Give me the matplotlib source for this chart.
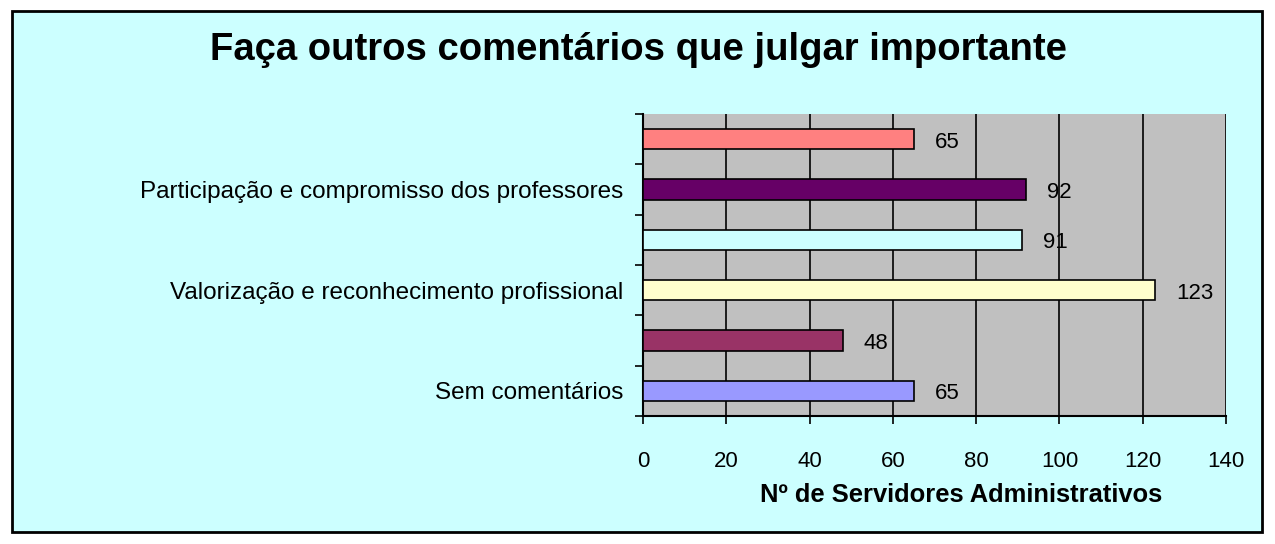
import matplotlib.pyplot as plt
from matplotlib.patches import Rectangle

# data, bottom to top as drawn
categories = ['Sem comentários', '', 'Valorização e reconhecimento profissional',
              '', 'Participação e compromisso dos professores', '']
values = [65, 48, 123, 91, 92, 65]
colors = ['#9999FF', '#993366', '#FFFFCC', '#CCFFFF', '#660066', '#FF8080']
xticks = [0, 20, 40, 60, 80, 100, 120, 140]


def main():
    plt.rcParams['font.family'] = ['Liberation Sans', 'DejaVu Sans']
    fig = plt.figure(figsize=(12.75, 5.44), dpi=100)
    fig.patch.set_facecolor('white')

    # chart area frame
    fig.patches.append(Rectangle((12 / 1275, 1 - 532 / 544), 1250 / 1275, 521 / 544,
                                 transform=fig.transFigure, facecolor='#CCFFFF',
                                 edgecolor='black', linewidth=2, zorder=-10))

    ax = fig.add_axes([643 / 1275, 1 - 416 / 544, 583 / 1275, 302 / 544])
    ax.set_facecolor('#C0C0C0')

    pos = range(len(values))
    ax.barh(pos, values, height=0.4, color=colors, edgecolor='black', linewidth=1.2, zorder=3)
    for p, v in zip(pos, values):
        ax.text(v + 5, p - 0.06, str(v), va='center', ha='left', fontsize=16, zorder=4)

    ax.set_xlim(0, 140)
    ax.set_ylim(-0.5, len(values) - 0.5)
    ax.set_xticks(xticks)
    ax.set_xticklabels([str(t) for t in xticks], fontsize=16)
    ax.xaxis.grid(True, color='black', linewidth=1.2, zorder=1)
    ax.set_axisbelow(True)

    # category labels centered, ticks at the boundaries
    ax.set_yticks([p - 0.5 for p in range(len(values) + 1)])
    ax.set_yticklabels([])
    ax.set_yticks(list(pos), minor=True)
    ax.set_yticklabels(categories, minor=True, fontsize=17.5)
    ax.tick_params(axis='y', which='minor', length=0, pad=14)
    ax.tick_params(axis='y', which='major', length=6, width=1.2, direction='out')
    ax.tick_params(axis='x', length=6, width=1.2, direction='out', pad=19)

    for side in ['top', 'right']:
        ax.spines[side].set_visible(False)
    ax.spines['left'].set_linewidth(1.5)
    ax.spines['bottom'].set_linewidth(1.5)

    fig.text(961 / 1275, 1 - 495 / 544, 'Nº de Servidores Administrativos',
             ha='center', va='center', fontsize=18.4, fontweight='bold')
    fig.text(638 / 1275, 1 - 50 / 544, 'Faça outros comentários que julgar importante',
             ha='center', va='center', fontsize=27.5, fontweight='bold')

    fig.savefig('out.png', dpi=100, facecolor=fig.get_facecolor())


if __name__ == "__main__":
    main()
